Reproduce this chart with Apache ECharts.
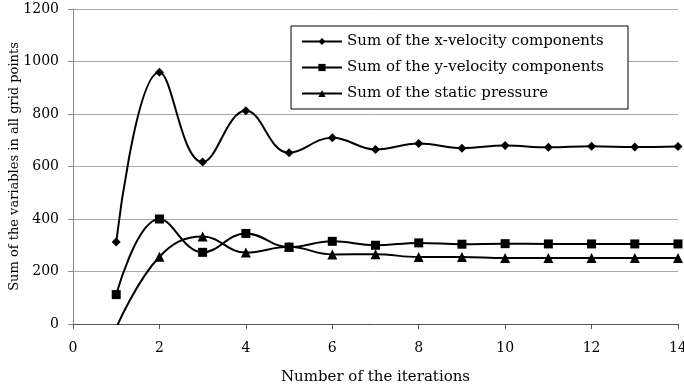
<!DOCTYPE html>
<html lang="en">
<head>
  <meta charset="UTF-8">
  <script src="https://cdn.jsdelivr.net/npm/echarts@6/dist/echarts.min.js"></script>
  <style>
    body { margin: 0; background: #fff; }
    #main { width: 684px; height: 388px; }
  </style>
</head>
<body>
  <div id="main"></div>
  <script>
    // iterations 1..14
    const iterations = [1, 2, 3, 4, 5, 6, 7, 8, 9, 10, 11, 12, 13, 14];
    const xVelocity = [312, 959, 617, 812, 652, 710, 665, 688, 670, 680, 673, 677, 674, 676];
    const yVelocity = [112, 400, 273, 345, 293, 315, 300, 309, 304, 306, 305, 305, 305, 305];
    const staticPressure = [-15, 256, 333, 272, 294, 265, 266, 255, 255, 251, 251, 251, 251, 251];
    const names = [
      'Sum of the x-velocity components',
      'Sum of the y-velocity components',
      'Sum of the static pressure'
    ];

    const font = '"DejaVu Serif", "Liberation Serif", serif';
    const pairs = arr => iterations.map((x, i) => [x, arr[i]]);

    function line(name, data, symbol, size) {
      return {
        name: name,
        type: 'line',
        smooth: 0.42,
        data: pairs(data),
        symbol: symbol,
        symbolSize: size,
        lineStyle: { color: '#000', width: 2 },
        itemStyle: { color: '#000' }
      };
    }

    var myChart = echarts.init(document.getElementById('main'));
    var option = {
      animation: false,
      textStyle: { fontFamily: font },
      grid: { left: 73, right: 6, top: 9, bottom: 64, outerBoundsMode: 'none' },
      legend: {
        orient: 'vertical',
        left: 291,
        top: 26,
        padding: [8, 24, 8, 10],
        itemGap: 11,
        itemWidth: 40,
        itemHeight: 9,
        borderColor: '#000',
        borderWidth: 1,
        backgroundColor: '#fff',
        textStyle: { fontFamily: font, fontSize: 15, color: '#000' },
        data: names
      },
      xAxis: {
        type: 'value',
        min: 0, max: 14, interval: 2,
        name: 'Number of the iterations',
        nameLocation: 'middle',
        nameGap: 46,
        nameTextStyle: { fontFamily: font, fontSize: 15, color: '#000' },
        axisLine: { lineStyle: { color: '#555', width: 1 } },
        axisTick: { show: true, length: 5, lineStyle: { color: '#555' } },
        axisLabel: { fontFamily: font, fontSize: 14, color: '#000', margin: 17 },
        splitLine: { show: false }
      },
      yAxis: {
        type: 'value',
        min: 0, max: 1200, interval: 200,
        name: 'Sum of the variables in all grid points',
        nameLocation: 'middle',
        nameGap: 52,
        nameMoveOverlap: false,
        nameTextStyle: { fontFamily: font, fontSize: 13, color: '#000' },
        axisLine: { show: true, lineStyle: { color: '#888', width: 1 } },
        axisTick: { show: true, length: 5, lineStyle: { color: '#888' } },
        axisLabel: { fontFamily: font, fontSize: 14, color: '#000', margin: 14,
          formatter: v => String(v) },
        splitLine: { lineStyle: { color: '#aaa', width: 1 } }
      },
      series: [
        line(names[0], xVelocity, 'diamond', 9),
        line(names[1], yVelocity, 'rect', 9),
        line(names[2], staticPressure, 'triangle', 10)
      ]
    };
    option && myChart.setOption(option);
  </script>
</body>
</html>
